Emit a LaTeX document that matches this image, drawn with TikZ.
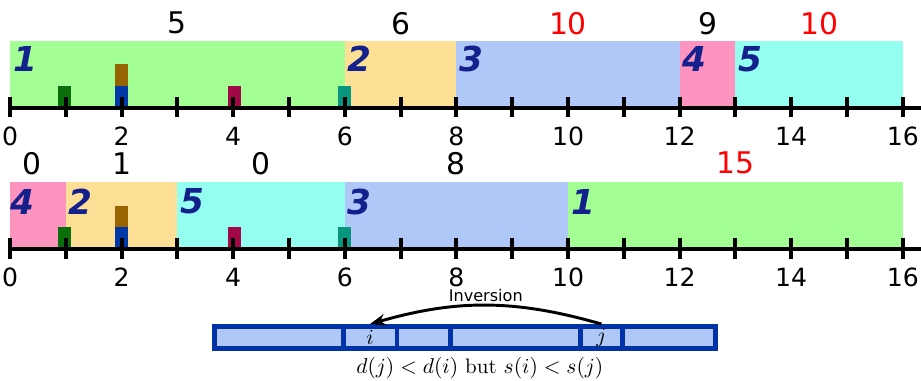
\documentclass[tikz,border=0pt]{standalone}
\usepackage{fontspec}
\setsansfont{DejaVu Sans}
\usetikzlibrary{arrows.meta, positioning}
\definecolor{jgreen}{HTML}{A3FE94}
\definecolor{jorange}{HTML}{FDDF96}
\definecolor{jblue}{HTML}{B0C8F8}
\definecolor{jpink}{HTML}{FD94C0}
\definecolor{jcyan}{HTML}{94FEF0}
\definecolor{dgreen}{HTML}{0A6E0A}
\definecolor{dblue}{HTML}{0038A8}
\definecolor{dbrown}{HTML}{966400}
\definecolor{dred}{HTML}{A00848}
\definecolor{dteal}{HTML}{08967F}
\definecolor{cnavy}{HTML}{14208C}
\definecolor{cstrip}{HTML}{0033A8}
\tikzset{
  every picture/.style={font=\sffamily},
  axisline/.style={line width=2.3pt},
  axtick/.style={line width=2pt},
  axnum/.style={font=\sffamily\fontsize{12.8}{15}\selectfont, inner sep=0pt},
  late/.style={font=\sffamily\fontsize{15.2}{18}\selectfont, inner sep=0pt},
  jobno/.style={font=\sffamily\bfseries\itshape\fontsize{17.5}{20}\selectfont, text=cnavy, anchor=west, inner sep=0pt},
  cell/.style={draw=cstrip, fill=jblue, line width=2.5pt, minimum height=0.394cm, inner sep=0pt, font=\fontsize{10.7}{13}\selectfont},
  inv/.style={-{Stealth[length=8pt, width=6pt]}, line width=1.5pt},
}

\begin{document}
\begin{tikzpicture}
  \useasboundingbox (-0.179,-4.892) rectangle (16.326,1.935);

  % schedule by job order
  \fill[jgreen]  (0,0) rectangle (6,1.2);
  \fill[jorange] (6,0) rectangle (8,1.2);
  \fill[jblue]   (8,0) rectangle (12,1.2);
  \fill[jpink]   (12,0) rectangle (13,1.2);
  \fill[jcyan]   (13,0) rectangle (16,1.2);
  \node[jobno] (t1) at (0.05,0.88)  {1};
  \node[jobno] (t2) at (6.05,0.88)  {2};
  \node[jobno] (t3) at (8.05,0.88)  {3};
  \node[jobno] (t4) at (12.05,0.88) {4};
  \node[jobno] (t5) at (13.05,0.88) {5};
  \node[late] (tl1) at (3,1.52)    {5};
  \node[late] (tl2) at (7,1.52)    {6};
  \node[late, text=red] (tl3) at (10,1.52)   {10};
  \node[late] (tl4) at (12.5,1.52) {9};
  \node[late, text=red] (tl5) at (14.5,1.52) {10};

  % schedule by deadline
  \begin{scope}[yshift=-2.53cm]
    \fill[jpink]   (0,0) rectangle (1,1.2);
    \fill[jorange] (1,0) rectangle (3,1.2);
    \fill[jcyan]   (3,0) rectangle (6,1.2);
    \fill[jblue]   (6,0) rectangle (10,1.2);
    \fill[jgreen]  (10,0) rectangle (16,1.2);
    \node[jobno] (b4) at (0.0,0.85)  {4};
    \node[jobno] (b2) at (1.05,0.85) {2};
    \node[jobno] (b5) at (3.05,0.85) {5};
    \node[jobno] (b3) at (6.05,0.85) {3};
    \node[jobno] (b1) at (10.05,0.85) {1};
    \node[late] (bl4) at (0.4,1.54) {0};
    \node[late] (bl2) at (2,1.54)   {1};
    \node[late] (bl5) at (4.5,1.54) {0};
    \node[late] (bl3) at (8,1.54)   {8};
    \node[late, text=red] (bl1) at (13,1.54) {15};
  \end{scope}

  % deadlines and time axis
  \foreach \ry/\rn in {0/a, -2.53/b} {
    \begin{scope}[yshift=\ry cm]
      \fill[dgreen] (0.86,0) rectangle (1.10,0.39);
      \fill[dblue]  (1.88,0) rectangle (2.12,0.39);
      \fill[dbrown] (1.88,0.39) rectangle (2.12,0.78);
      \fill[dred]   (3.90,0) rectangle (4.14,0.39);
      \fill[dteal]  (5.88,0) rectangle (6.12,0.39);
      \draw[axisline] (-0.04,0) -- (16.4,0);
      \foreach \x in {0,...,16} \draw[axtick] (\x,0.2) -- (\x,-0.17);
      \foreach \x in {0,2,...,16} \node[axnum] (\rn\x) at (\x,-0.5) {\x};
    \end{scope}
  }

  % inversion
  \node[cell, minimum width=2.305cm] (c1) at (4.818,-4.113)  {};
  \node[cell, minimum width=0.965cm] (ci) at (6.453,-4.113)  {$i$};
  \node[cell, minimum width=0.965cm] (c3) at (7.418,-4.113)  {};
  \node[cell, minimum width=2.33cm]  (c4) at (9.065,-4.113)  {};
  \node[cell, minimum width=0.74cm]  (cj) at (10.60,-4.113)  {$j$};
  \node[cell, minimum width=1.67cm]  (c6) at (11.805,-4.113) {};
  \draw[inv] (cj.north) to[bend right=16]
    node[above, inner sep=1pt, font=\sffamily\fontsize{8.2}{10}\selectfont] (invl) {Inversion} (ci.north);
  \node[font=\rmfamily\fontsize{10.7}{13}\selectfont] (cond) at (8.42,-4.66) {$d(j) < d(i)$ but $s(i) < s(j)$};
\end{tikzpicture}
\end{document}
